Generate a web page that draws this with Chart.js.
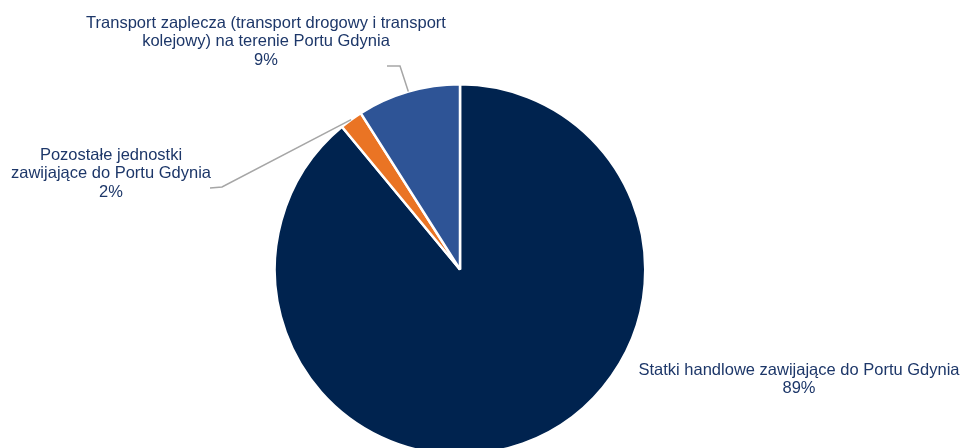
<!DOCTYPE html>
<html>
<head>
<meta charset="utf-8">
<script src="https://cdn.jsdelivr.net/npm/chart.js@4/dist/chart.umd.min.js"></script>
<style>
html,body{margin:0;padding:0;background:#fff;overflow:hidden;}
#wrap{width:965px;height:456px;}
</style>
</head>
<body>
<div id="wrap"><canvas id="c" width="965" height="456"></canvas></div>
<script>
const categories = [
  "Statki handlowe zawijające do Portu Gdynia",
  "Pozostałe jednostki zawijające do Portu Gdynia",
  "Transport zaplecza (transport drogowy i transport kolejowy) na terenie Portu Gdynia"
];
const values = [89, 2, 9];
const percentLabels = ["89%", "2%", "9%"];
const labelLines = [
  ["Statki handlowe zawijające do Portu Gdynia"],
  ["Pozostałe jednostki", "zawijające do Portu Gdynia"],
  ["Transport zaplecza (transport drogowy i transport", "kolejowy) na terenie Portu Gdynia"]
];
const colors = ["#00234F", "#EA7424", "#2E5496"];

// layout of labels (positions, not data)
const labelLayout = [
  {x: 799, y: 370, lead: null},
  {x: 111, y: 155, lead: [[210, 188], [222, 187]]},
  {x: 266, y: 23, lead: [[387, 66], [400, 66]]}
];
const LINE_H = 18.7;
const TEXT_COLOR = "#1D3769";

const labelPlugin = {
  id: 'pieLabels',
  afterDatasetsDraw(chart) {
    const ctx = chart.ctx;
    const meta = chart.getDatasetMeta(0);
    ctx.save();
    meta.data.forEach((arc, i) => {
      const L = labelLayout[i];
      if (L.lead) {
        const p = arc.getProps(['x','y','startAngle','endAngle','outerRadius'], true);
        const mid = (p.startAngle + p.endAngle) / 2;
        const ex = p.x + Math.cos(mid) * p.outerRadius;
        const ey = p.y + Math.sin(mid) * p.outerRadius;
        ctx.strokeStyle = "#A6A6A6";
        ctx.lineWidth = 1.5;
        ctx.beginPath();
        ctx.moveTo(L.lead[0][0], L.lead[0][1]);
        ctx.lineTo(L.lead[1][0], L.lead[1][1]);
        ctx.lineTo(ex, ey);
        ctx.stroke();
      }
      ctx.fillStyle = TEXT_COLOR;
      ctx.font = "16.5px 'Liberation Sans', Arial, sans-serif";
      ctx.textAlign = "center";
      ctx.textBaseline = "middle";
      const lines = labelLines[i].concat([percentLabels[i]]);
      lines.forEach((t, k) => ctx.fillText(t, L.x, L.y + k * LINE_H));
    });
    ctx.restore();
  }
};

new Chart(document.getElementById('c'), {
  type: 'pie',
  data: {
    labels: categories,
    datasets: [{
      data: values,
      backgroundColor: colors,
      borderColor: "#FFFFFF",
      borderWidth: 2.5
    }]
  },
  options: {
    responsive: false,
    animation: false,
    layout: {padding: {left: 273, right: 318, top: 83, bottom: 0}},
    plugins: {legend: {display: false}, tooltip: {enabled: false}}
  },
  plugins: [labelPlugin]
});
</script>
</body>
</html>
